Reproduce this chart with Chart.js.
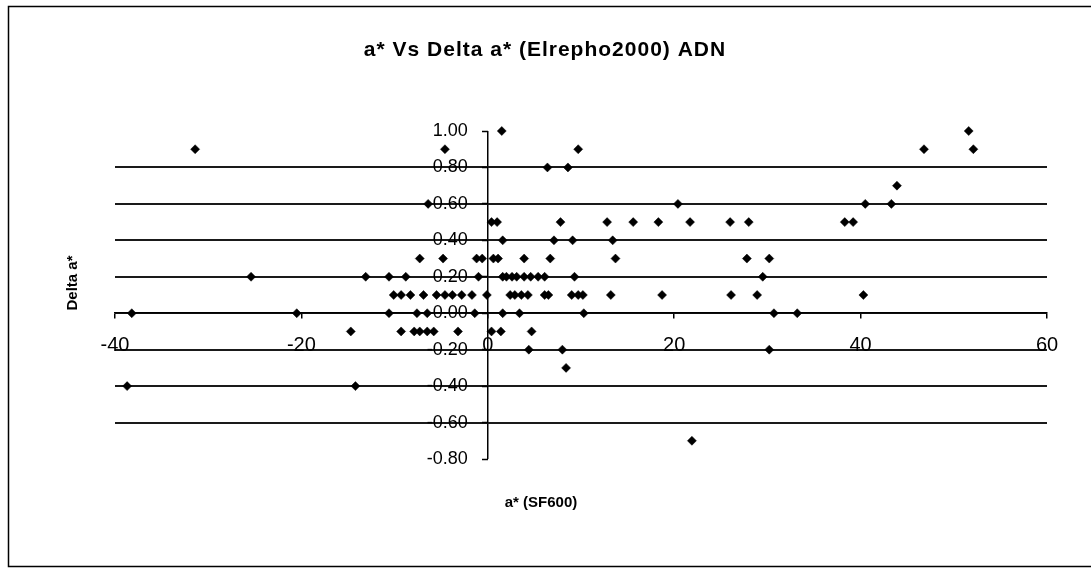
<!DOCTYPE html>
<html>
<head>
<meta charset="utf-8">
<title>a* Vs Delta a* (Elrepho2000) ADN</title>
<script src="https://cdn.jsdelivr.net/npm/chart.js@4/dist/chart.umd.min.js"></script>
<style>
  html, body { margin: 0; padding: 0; background: #fff; }
  #wrap { position: relative; width: 1091px; height: 571px; }
  canvas { display: block; }
</style>
</head>
<body>
<div id="wrap"><canvas id="chart" width="1091" height="571"></canvas></div>
<script>
// Texts
const chartTitle = 'a* Vs Delta a* (Elrepho2000) ADN';
const xTitle = 'a* (SF600)';
const yTitle = 'Delta a*';

// Axis ranges / tick steps
const xRange = [-40, 60];
const xStep = 20;
const yRange = [-0.8, 1.0];
const yStep = 0.2;

// a* (SF600) readings, grouped by their Delta a* value
const aAt100 = [1.5, 51.6];
const aAt090 = [-31.4, -4.6, 9.7, 46.8, 52.1];
const aAt080 = [6.4, 8.6];
const aAt070 = [43.9];
const aAt060 = [-6.4, 20.4, 40.5, 43.3];
const aAt050 = [0.4, 1.0, 7.8, 12.8, 15.6, 18.3, 21.7, 26.0, 28.0, 38.3, 39.2];
const aAt040 = [1.6, 7.1, 9.1, 13.4];
const aAt030 = [-7.3, -4.8, -1.2, -0.6, 0.6, 1.1, 3.9, 6.7, 13.7, 27.8, 30.2];
const aAt020 = [-25.4, -13.1, -10.6, -8.8, -1.0, 1.6, 2.0, 2.6, 3.1, 3.9, 4.6, 5.4, 6.1, 9.3, 29.5];
const aAt010 = [-10.1, -9.3, -8.3, -6.9, -5.5, -4.6, -3.8, -2.8, -1.7, -0.1, 2.4, 2.9, 3.6, 4.3, 6.1, 6.5, 9.0, 9.7, 10.2, 13.2, 18.7, 26.1, 28.9, 40.3];
const aAt000 = [-38.2, -20.5, -10.6, -7.6, -6.5, -1.4, 1.6, 3.4, 10.3, 30.7, 33.2];
const aAtM010 = [-14.7, -9.3, -7.9, -7.3, -6.5, -5.8, -3.2, 0.4, 1.4, 4.7];
const aAtM020 = [4.4, 8.0, 30.2];
const aAtM030 = [8.4];
const aAtM040 = [-38.7, -14.2];
const aAtM070 = [21.9];

const groups = [
  [1.0, aAt100], [0.9, aAt090], [0.8, aAt080], [0.7, aAt070], [0.6, aAt060],
  [0.5, aAt050], [0.4, aAt040], [0.3, aAt030], [0.2, aAt020], [0.1, aAt010],
  [0.0, aAt000], [-0.1, aAtM010], [-0.2, aAtM020], [-0.3, aAtM030],
  [-0.4, aAtM040], [-0.7, aAtM070]
];
const points = [];
groups.forEach(([delta, list]) => list.forEach(a => points.push({ x: a, y: delta })));

const INK = '#000';
const CLEAR = 'rgba(0,0,0,0)';
const FONT = "'Liberation Sans', Arial, sans-serif";

// Plot box inside the canvas
const PAD = { left: 115, right: 44, top: 131, bottom: 112 };
// Gap between the vertical axis and the right end of its labels (px)
const Y_LABEL_GAP = 20;
const plotWidth = 1091 - PAD.left - PAD.right;
// x value where the Delta a* labels are anchored (their right edge)
const yLabelAnchor = -Y_LABEL_GAP * (xRange[1] - xRange[0]) / plotWidth;

// White page, outer frame and the three captions
const frameAndCaptions = {
  id: 'frameAndCaptions',
  beforeDraw(chart) {
    const c = chart.ctx;
    c.save();
    c.fillStyle = '#fff';
    c.fillRect(0, 0, chart.width, chart.height);
    c.restore();
  },
  afterDraw(chart) {
    const c = chart.ctx;
    c.save();
    c.strokeStyle = INK;
    c.lineWidth = 1.5;
    c.strokeRect(8.5, 6.5, 1100, 560);
    c.fillStyle = INK;
    c.textAlign = 'center';
    c.textBaseline = 'middle';
    c.font = `bold 21px ${FONT}`;
    if ('letterSpacing' in c) c.letterSpacing = '1px';
    c.fillText(chartTitle, 545, 50);
    if ('letterSpacing' in c) c.letterSpacing = '0px';
    c.font = `bold 15px ${FONT}`;
    c.fillText(xTitle, 541, 503);
    c.translate(73, 283);
    c.rotate(-Math.PI / 2);
    c.fillText(yTitle, 0, 0);
    c.restore();
  }
};

const fmtY = v => (Math.abs(v) < 1e-9 ? 0 : v).toFixed(2);
const isEnd = v => Math.abs(v - yRange[1]) < 1e-9 || Math.abs(v - yRange[0]) < 1e-9;

new Chart(document.getElementById('chart'), {
  type: 'scatter',
  data: {
    datasets: [{
      label: 'Delta a*',
      data: points,
      clip: false,
      pointStyle: 'rectRot',
      pointRadius: 4.5,
      pointBackgroundColor: INK,
      pointBorderColor: INK,
      pointBorderWidth: 0.5
    }]
  },
  options: {
    responsive: false,
    animation: false,
    events: [],
    layout: { padding: PAD },
    plugins: { legend: { display: false }, tooltip: { enabled: false }, title: { display: false } },
    scales: {
      x: {
        type: 'linear',
        position: { y: 0 },
        min: xRange[0], max: xRange[1],
        afterFit: s => { s.height = 0; },
        border: { display: true, color: INK, width: 1.5 },
        grid: {
          display: true, drawOnChartArea: true, drawTicks: true, tickLength: 5,
          lineWidth: 1.5,
          // only the zero line is shown: it is the Delta a* axis
          color: ctx => (ctx.tick && ctx.tick.value === 0) ? INK : CLEAR,
          tickColor: INK, tickWidth: 1.5
        },
        ticks: {
          stepSize: xStep, padding: 15, color: INK, maxRotation: 0, autoSkip: false,
          font: { family: FONT, size: 20 },
          callback: v => String(v)
        }
      },
      // Delta a* gridlines and tick labels
      y: {
        type: 'linear',
        position: { x: yLabelAnchor },
        min: yRange[0], max: yRange[1],
        afterFit: s => { s.width = 0; },
        border: { display: false },
        grid: {
          display: true, drawOnChartArea: true, drawTicks: false,
          lineWidth: 2,
          color: ctx => (ctx.tick && isEnd(ctx.tick.value)) ? CLEAR : '#1a1a1a'
        },
        ticks: {
          stepSize: yStep, padding: 0, color: INK, autoSkip: false,
          font: { family: FONT, size: 18 },
          callback: v => fmtY(v)
        }
      },
      // tick marks on the Delta a* axis at a* = 0
      yMarks: {
        type: 'linear',
        position: { x: 0 },
        min: yRange[0], max: yRange[1],
        afterFit: s => { s.width = 0; },
        border: { display: false },
        grid: {
          display: true, drawOnChartArea: false, drawTicks: true, tickLength: 6,
          color: INK, tickColor: INK, tickWidth: 1.5
        },
        ticks: { stepSize: yStep, display: false }
      }
    }
  },
  plugins: [frameAndCaptions]
});
</script>
</body>
</html>
